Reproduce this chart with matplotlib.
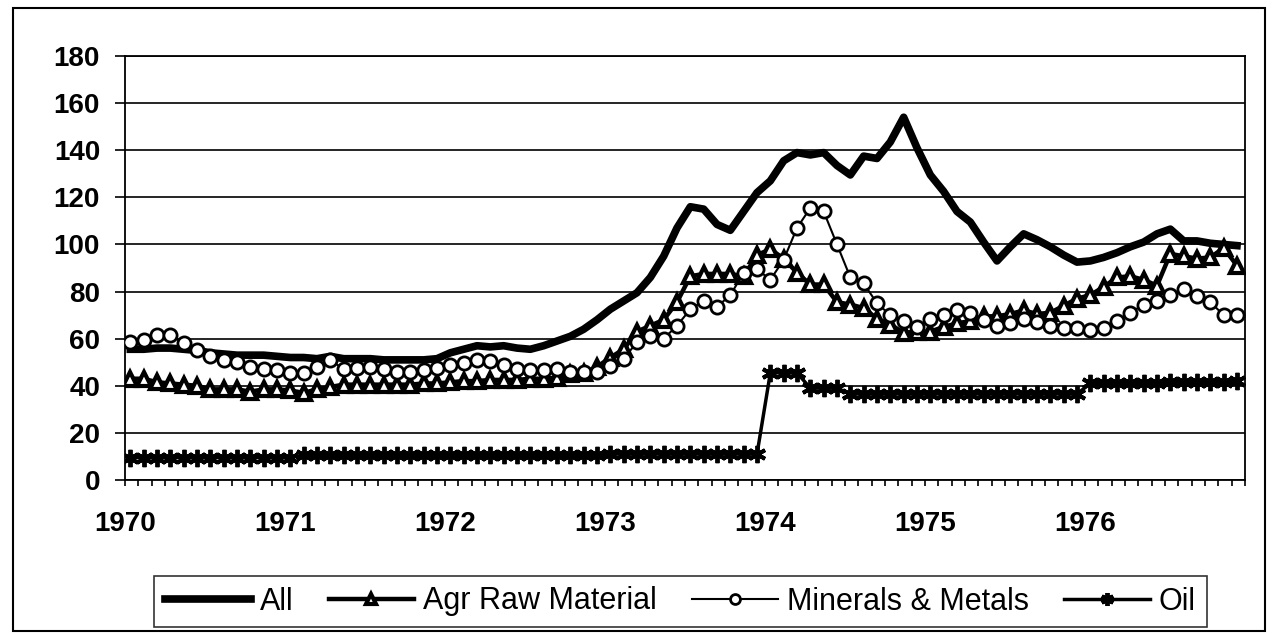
import numpy as np
import matplotlib.pyplot as plt
from matplotlib.patches import Rectangle

plt.rcParams['font.family'] = ['Liberation Sans', 'DejaVu Sans']

years = ['1970', '1971', '1972', '1973', '1974', '1975', '1976']

# monthly price indices, Jan 1970 .. Dec 1976
all_idx = [55.5, 55.5, 56, 56, 55.5, 55, 54, 53.5, 53, 53, 53, 52.5,
           52, 52, 51.5, 52.5, 51.5, 51.5, 51.5, 51, 51, 51, 51, 51.5,
           54, 55.5, 57, 56.5, 57, 56, 55.5, 57, 59, 61, 64, 68,
           72.5, 76, 79.5, 86, 95, 107, 116, 115, 108.5, 106, 114, 122,
           127, 135.5, 139, 138, 139, 133.5, 129.5, 137.5, 136.5, 143.5, 154, 141,
           129.5, 122.5, 114, 109.5, 101, 93, 99, 104.5, 102, 99, 95.5, 92.5,
           93, 94.5, 96.5, 99, 101, 104.5, 106.5, 101.5, 101.5, 100.5, 100, 99.5]

agr_raw = [43, 43, 41.5, 41, 40.5, 40, 38.5, 38.5, 38.5, 37.5, 38.5, 38.5,
           38, 37, 38.5, 39.5, 40.5, 40.5, 40.5, 40.5, 40.5, 40.5, 41, 41,
           41.5, 42, 42, 42.5, 42.5, 42.5, 43, 43, 43.5, 45, 45.5, 48,
           52, 55.5, 63, 65.5, 68, 75.5, 86.5, 87.5, 87.5, 87.5, 86.5, 95.5,
           98, 94, 88, 83, 83, 75.5, 74.5, 73, 68.5, 66, 62.5, 63,
           63, 65, 66.5, 67.5, 69.5, 69.5, 70.5, 72, 70.5, 71, 74, 77,
           78.5, 82, 86, 86.5, 85, 82.5, 96, 95, 94, 94.5, 98.5, 91]

minerals = [58.5, 59.5, 61.5, 61.5, 58, 55, 52.5, 51, 50, 48, 47, 46.5,
            45.5, 45.5, 48, 51, 47, 47.5, 48, 47, 46, 46, 46.5, 47.5,
            49, 49.5, 51, 50.5, 49, 47, 46.5, 46.5, 47, 46, 46, 46,
            48.5, 51.5, 58.5, 61, 60, 65.5, 72.5, 76, 73.5, 78.5, 88, 89.5,
            85, 93.5, 107, 115.5, 114, 100, 86, 83.5, 75, 70, 67.5, 65,
            68.5, 70, 72, 71, 68, 65.5, 66.5, 68.5, 67, 65.5, 64.5, 64.5,
            63.5, 64.5, 67.5, 71, 74.5, 76, 78.5, 81, 78, 75.5, 70, 70]

oil = [9.5, 9.5, 9.5, 9.5, 9.5, 9.5, 9.5, 9.5, 9.5, 9.5, 9.5, 9.5,
       9.5, 10.5, 10.5, 10.5, 10.5, 10.5, 10.5, 10.5, 10.5, 10.5, 10.5, 10.5,
       10.5, 10.5, 10.5, 10.5, 10.5, 10.5, 10.5, 10.5, 10.5, 10.5, 10.5, 10.5,
       11, 11, 11, 11, 11, 11, 11, 11, 11, 11, 11, 11,
       45.5, 45.5, 45.5, 39, 39, 39, 36.5, 36.5, 36.5, 36.5, 36.5, 36.5,
       36.5, 36.5, 36.5, 36.5, 36.5, 36.5, 36.5, 36.5, 36.5, 36.5, 36.5, 36.5,
       41, 41, 41, 41, 41, 41, 41.5, 41.5, 41.5, 41.5, 41.5, 42]

labels = ['All', 'Agr Raw Material', 'Minerals & Metals', 'Oil']

W, H = 1273, 634
fig = plt.figure(figsize=(W / 100, H / 100), dpi=100)
ax = fig.add_axes([125 / W, 1 - 480 / H, 1120 / W, 424 / H])

x = np.arange(len(all_idx)) + 0.4

l1, = ax.plot(x, all_idx, color='black', lw=5.5, solid_joinstyle='round', zorder=3)
l2, = ax.plot(x, agr_raw, color='black', lw=3.2, marker='^', ms=10, mfc='white',
              mec='black', mew=3.0, zorder=4)
l3, = ax.plot(x, minerals, color='black', lw=1.5, marker='o', ms=9.5, mfc='white',
              mec='black', mew=2.0, zorder=5)
l4, = ax.plot(x, oil, color='black', lw=2.5, marker=(6, 2, 0), ms=12.5,
              mec='black', mew=2.8, zorder=6)

ax.set_xlim(0, 84)
ax.set_ylim(0, 180)
ax.set_yticks(np.arange(0, 181, 20))
ax.set_xticks(np.arange(0, 73, 12))
ax.set_xticklabels(years)
ax.set_xticks(np.arange(0, 85, 1), minor=True)

ax.yaxis.grid(True, color='black', lw=1.2)
ax.set_axisbelow(True)
for s in ax.spines.values():
    s.set_color('black')
    s.set_linewidth(1.3)

ax.tick_params(axis='y', length=7, width=1.2, pad=11, labelsize=20)
ax.tick_params(axis='x', which='both', length=4.5, width=1.2, direction='out')
ax.tick_params(axis='x', which='major', pad=18, labelsize=20)
for t in ax.get_xticklabels() + ax.get_yticklabels():
    t.set_fontweight('bold')

leg = fig.legend([l1, l2, l3, l4], labels, loc='center',
                 bbox_to_anchor=(680.5 / W, 1 - 601.5 / H), ncol=4,
                 frameon=True, fancybox=False, edgecolor='black', fontsize=22,
                 handlelength=2.8, handletextpad=0.3, columnspacing=1.15,
                 borderpad=0.35, markerscale=0.75)
leg.get_frame().set_linewidth(1.2)

# outer chart border
fig.add_artist(Rectangle((13 / W, 3 / H), 1252 / W, 623 / H, transform=fig.transFigure,
                         fill=False, ec='black', lw=1.5))

fig.savefig('out.png', dpi=100)
